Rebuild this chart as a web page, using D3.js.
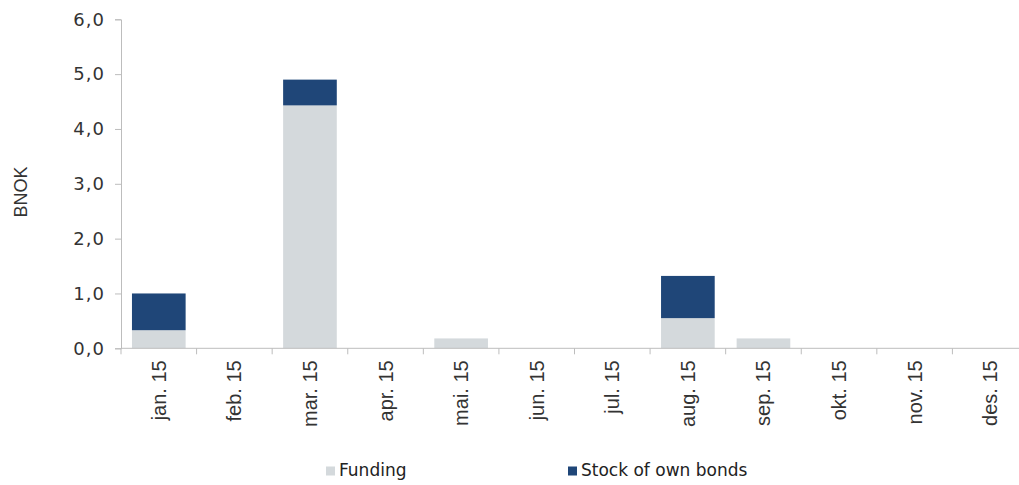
<!DOCTYPE html>
<html>
<head>
<meta charset="utf-8">
<script src="https://cdn.jsdelivr.net/npm/d3@7"></script>
<style>
  body { margin: 0; background: #fff; }
  svg { display: block; }
</style>
</head>
<body>
<svg class="chart" width="1019" height="485"></svg>
<script>
var months = ['jan. 15', 'feb. 15', 'mar. 15', 'apr. 15', 'mai. 15', 'jun. 15',
              'jul. 15', 'aug. 15', 'sep. 15', 'okt. 15', 'nov. 15', 'des. 15'];
var funding = [0.33, 0, 4.43, 0, 0.18, 0, 0, 0.55, 0.18, 0, 0, 0];
var stockOwnBonds = [0.67, 0, 0.47, 0, 0, 0, 0, 0.77, 0, 0, 0, 0];
var yTicks = [0, 1, 2, 3, 4, 5, 6];
var seriesNames = ['Funding', 'Stock of own bonds'];
var colors = ['#d4d9dc', '#1f4678'];

var svg = d3.select('.chart');
var axisColor = '#bdbdbd';

var x = d3.scaleBand().domain(months).range([121, 1028]).paddingInner(0.29).paddingOuter(0.145);
var y = d3.scaleLinear().domain([0, 6]).range([348.3, 19.3]);

var rows = months.map(function(m, i){ return {month: m, Funding: funding[i], 'Stock of own bonds': stockOwnBonds[i]}; });
var stack = d3.stack().keys(seriesNames)(rows);

// bars
svg.append('g').selectAll('g.series')
  .data(stack).enter().append('g')
  .attr('fill', function(d, i){ return colors[i]; })
  .selectAll('rect')
  .data(function(d){ return d; })
  .enter().append('rect')
  .attr('x', function(d){ return x(d.data.month); })
  .attr('width', x.bandwidth())
  .attr('y', function(d){ return y(d[1]); })
  .attr('height', function(d){ return y(d[0]) - y(d[1]); });

// y axis
var yAxis = svg.append('g').attr('transform', 'translate(121,0)')
  .call(d3.axisLeft(y).tickValues(yTicks).tickSize(6).tickPadding(10)
    .tickFormat(function(d){ return d3.format('.1f')(d).replace('.', ','); }));
yAxis.select('.domain').attr('stroke', axisColor);
yAxis.selectAll('.tick line').attr('stroke', axisColor);
yAxis.selectAll('.tick text')
  .style('font-family', 'DejaVu Sans, Verdana, sans-serif')
  .style('font-size', '18px').style('letter-spacing', '1px').attr('fill', '#333');

// x axis: ticks at band boundaries
var bounds = months.map(function(m){ return x(m) - x.step() * x.paddingInner() / 2; });
bounds.push(1028);
var xg = svg.append('g');
xg.append('line').attr('x1', 121).attr('x2', 1028).attr('y1', y(0)).attr('y2', y(0))
  .attr('stroke', axisColor);
xg.selectAll('line.tk').data(bounds).enter().append('line')
  .attr('x1', function(d){ return d; }).attr('x2', function(d){ return d; })
  .attr('y1', y(0)).attr('y2', y(0) + 6).attr('stroke', axisColor);
xg.selectAll('text').data(months).enter().append('text')
  .attr('transform', function(d){ return 'translate(' + (x(d) + x.bandwidth() / 2 + 7) + ',' + (y(0) + 12) + ')rotate(-90)'; })
  .attr('text-anchor', 'end')
  .style('font-family', 'Liberation Sans, Arial, sans-serif')
  .style('font-size', '20px').attr('fill', '#333')
  .text(function(d){ return d; });

// y label
svg.append('text').attr('transform', 'translate(27,192)rotate(-90)')
  .attr('text-anchor', 'middle')
  .style('font-family', 'Liberation Sans, Arial, sans-serif')
  .style('font-size', '18px').attr('fill', '#333').text('BNOK');

// legend
var legendX = [326, 568];
var lg = svg.append('g').selectAll('g').data(seriesNames).enter().append('g')
  .attr('transform', function(d, i){ return 'translate(' + legendX[i] + ',466.5)'; });
lg.append('rect').attr('width', 9).attr('height', 9)
  .attr('fill', function(d, i){ return colors[i]; });
lg.append('text').attr('x', 13).attr('y', 9)
  .style('font-family', 'DejaVu Sans, Verdana, sans-serif')
  .style('font-size', '17px').attr('fill', '#222')
  .text(function(d){ return d; });
</script>
</body>
</html>
